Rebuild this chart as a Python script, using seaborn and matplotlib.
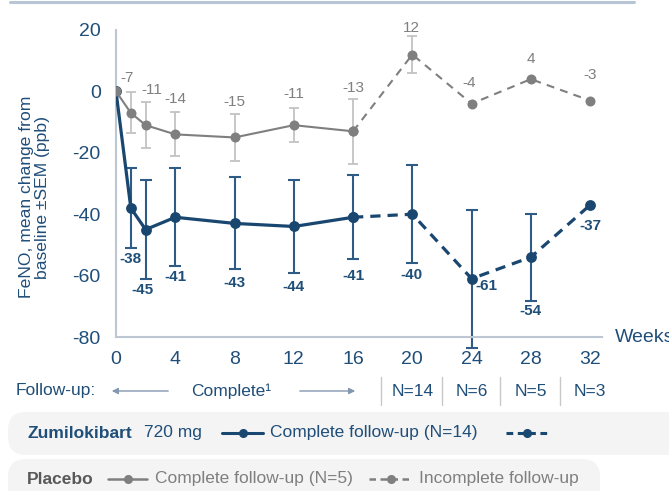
import numpy as np
import pandas as pd
import matplotlib
matplotlib.use("Agg")
import matplotlib.pyplot as plt
import matplotlib.transforms as mtransforms
from matplotlib.patches import FancyBboxPatch, FancyArrowPatch
from matplotlib.lines import Line2D
import seaborn as sns

# ---------------- data ----------------
weeks = [0, 1, 2, 4, 8, 12, 16, 20, 24, 28, 32]
zumi_mean = [0, -38, -45, -41, -43, -44, -41, -40, -61, -54, -37]
zumi_sem = [np.nan, 13, 16, 16, 15, 15, 13.7, 16, 22.5, 14.2, np.nan]
placebo_mean = [0, -7, -11, -14, -15, -11, -13, 12, -4, 4, -3]
placebo_sem = [np.nan, 6.7, 7.4, 7.2, 7.7, 5.6, 10.5, 5.9, np.nan, np.nan, np.nan]
complete_until = 16
xticks = [0, 4, 8, 12, 16, 20, 24, 28, 32]
yticks = [20, 0, -20, -40, -60, -80]
followup_n = ["N=14", "N=6", "N=5", "N=3"]

# label offsets (pixels) – styling only
zumi_lab_off = [None, (0, -51), (-3, -60), (0, -60), (0, -60), (0, -61), (0, -59),
                (-1, -61), (15, -7), (0, -54), (0, -21)]
plac_lab_off = [None, (-4, 35), (6, 35), (0, 35), (0, 35), (0, 31), (0, 43),
                (-1, 27), (-2, 21), (0, 20), (0, 26)]

BLUE = "#1a4770"
BLUE_ERR = "#2f5c86"
BLUE_TXT = "#1f4e79"
GRAY = "#7f7f7f"
GRAY_ERR = "#c3c3c3"
GRAY_TXT = "#7f7f7f"
AXIS_C = "#bcc7d3"
BOX_C = "#f4f4f4"

sns.set_style("white")
plt.rcParams["font.family"] = ["Liberation Sans", "DejaVu Sans"]

W, H = 669, 491
fig = plt.figure(figsize=(W / 100, H / 100), dpi=100)
ax = fig.add_axes([116 / W, 1 - 337 / H, 486 / W, 307 / H])

df = pd.DataFrame({
    "week": weeks * 2,
    "value": zumi_mean + placebo_mean,
    "group": ["Zumilokibart"] * len(weeks) + ["Placebo"] * len(weeks),
})
palette = {"Zumilokibart": BLUE, "Placebo": GRAY}
styles = {"Zumilokibart": dict(lw=2.3, ms=7.8, dash=(3.2, 2.2), z=3),
          "Placebo": dict(lw=1.5, ms=7.2, dash=(3.8, 3.0), z=4)}

for grp in ["Zumilokibart", "Placebo"]:
    st = styles[grp]
    sub = df[df["group"] == grp]
    solid = sub[sub["week"] <= complete_until]
    dashed = sub[sub["week"] >= complete_until]
    sns.lineplot(data=solid, x="week", y="value", hue="group", palette=palette,
                 marker="o", markersize=st["ms"], markeredgewidth=0, linewidth=st["lw"],
                 errorbar=None, legend=False, ax=ax, zorder=st["z"], sort=False)
    sns.lineplot(data=dashed, x="week", y="value", hue="group", palette=palette,
                 marker="o", markersize=st["ms"], markeredgewidth=0, linewidth=st["lw"],
                 linestyle=(0, st["dash"]), errorbar=None, legend=False, ax=ax,
                 zorder=st["z"], sort=False)

ax.errorbar(weeks, zumi_mean, yerr=zumi_sem, fmt="none", ecolor=BLUE_ERR,
            elinewidth=1.5, capsize=4.2, capthick=1.5, clip_on=False, zorder=2)
ax.errorbar(weeks, placebo_mean, yerr=placebo_sem, fmt="none", ecolor=GRAY_ERR,
            elinewidth=1.3, capsize=3.5, capthick=1.3, clip_on=False, zorder=1)

for w, v, off in zip(weeks, zumi_mean, zumi_lab_off):
    if off is None:
        continue
    ax.annotate(f"{v}", (w, v), xytext=off, textcoords="offset pixels",
                ha="center", va="center", fontsize=11, fontweight="bold",
                color=BLUE_TXT, zorder=6)
for w, v, off in zip(weeks, placebo_mean, plac_lab_off):
    if off is None:
        continue
    ax.annotate(f"{v}", (w, v), xytext=off, textcoords="offset pixels",
                ha="center", va="center", fontsize=11, color=GRAY_TXT, zorder=6)

ax.set_xlim(0, 32.8)
ax.set_ylim(-80, 20)
ax.set_xticks(xticks)
ax.set_yticks(yticks)
ax.set_xticklabels([str(t) for t in xticks])
ax.set_yticklabels([str(t) for t in yticks])
ax.tick_params(axis="both", length=0, labelsize=14, labelcolor=BLUE_TXT)
ax.tick_params(axis="x", pad=10)
ax.tick_params(axis="y", pad=11)
for s in ["top", "right"]:
    ax.spines[s].set_visible(False)
for s in ["left", "bottom"]:
    ax.spines[s].set_color(AXIS_C)
    ax.spines[s].set_linewidth(1.5)
ax.set_xlabel("")
ax.set_ylabel("FeNO, mean change from\nbaseline ±SEM (ppb)", fontsize=12.6,
              color=BLUE_TXT, linespacing=1.1)
# y-label anchor: right edge of the rotated text block
ax.yaxis.set_label_coords((50 - 116) / 486, (337 - 197) / 307)

# ---------- overlay in pixel coordinates ----------
ID = mtransforms.IdentityTransform()


def Y(py):
    return H - py


def ptext(x, y, s, **kw):
    fig.text(x, Y(y), s, transform=ID, **kw)


ptext(615, 337, "Weeks", fontsize=14, color=BLUE_TXT, va="center", ha="left")

# top rule
fig.add_artist(Line2D([10, 634], [Y(1.5), Y(1.5)], transform=ID, color="#b7c5d5", lw=2.2))

# follow-up row
fy = 391
ptext(16, fy, "Follow-up:", fontsize=12.5, color=BLUE_TXT, va="center")
ptext(191, fy, "Complete¹", fontsize=12.5, color=BLUE_TXT, va="center")
fig.add_artist(FancyArrowPatch((171, Y(fy)), (109, Y(fy)), transform=ID,
                               arrowstyle="-|>", mutation_scale=9, color="#8497b0", lw=1))
fig.add_artist(FancyArrowPatch((297, Y(fy)), (358, Y(fy)), transform=ID,
                               arrowstyle="-|>", mutation_scale=9, color="#8497b0", lw=1))
for sx in [381, 442, 500, 560]:
    fig.add_artist(Line2D([sx, sx], [Y(377), Y(405)], transform=ID, color="#c8c8c8", lw=1))
for cx, lab in zip([413, 472, 531, 590], followup_n):
    ptext(cx, fy, lab, fontsize=12.5, color=BLUE_TXT, va="center", ha="center")

# legend boxes
fig.add_artist(FancyBboxPatch((8, Y(455)), 700, 43, transform=ID,
                              boxstyle="round,pad=0,rounding_size=18",
                              fc=BOX_C, ec="none", zorder=0))
fig.add_artist(FancyBboxPatch((8, Y(505)), 592, 46, transform=ID,
                              boxstyle="round,pad=0,rounding_size=18",
                              fc=BOX_C, ec="none", zorder=0))

ly1 = 433
ptext(27, ly1, "Zumilokibart", fontsize=12.5, fontweight="bold", color=BLUE_TXT, va="center")
ptext(144, ly1, "720 mg", fontsize=12.5, color=BLUE_TXT, va="center")
fig.add_artist(Line2D([222, 263], [Y(ly1), Y(ly1)], transform=ID, color=BLUE, lw=2.2))
fig.add_artist(Line2D([242.5], [Y(ly1)], transform=ID, color=BLUE, marker="o", ms=5.5, lw=0))
ptext(270, ly1, "Complete follow-up (N=14)", fontsize=12.5, color=BLUE_TXT, va="center")
fig.add_artist(Line2D([506, 547], [Y(ly1), Y(ly1)], transform=ID, color=BLUE, lw=2.2,
                      dashes=(2.2, 1.5)))
fig.add_artist(Line2D([526.5], [Y(ly1)], transform=ID, color=BLUE, marker="o", ms=5.5, lw=0))

ly2 = 479
ptext(27, ly2, "Placebo", fontsize=12.5, fontweight="bold", color="#595959", va="center")
fig.add_artist(Line2D([108, 147], [Y(ly2), Y(ly2)], transform=ID, color=GRAY, lw=1.8))
fig.add_artist(Line2D([127.5], [Y(ly2)], transform=ID, color=GRAY, marker="o", ms=5.5, lw=0))
ptext(155, ly2, "Complete follow-up (N=5)", fontsize=12.5, color=GRAY_TXT, va="center")
fig.add_artist(Line2D([369, 412], [Y(ly2), Y(ly2)], transform=ID, color=GRAY, lw=1.8,
                      dashes=(2.6, 1.8)))
fig.add_artist(Line2D([390.5], [Y(ly2)], transform=ID, color=GRAY, marker="o", ms=5.5, lw=0))
ptext(419, ly2, "Incomplete follow-up", fontsize=12.5, color=GRAY_TXT, va="center")

fig.savefig("out.png", dpi=100)
